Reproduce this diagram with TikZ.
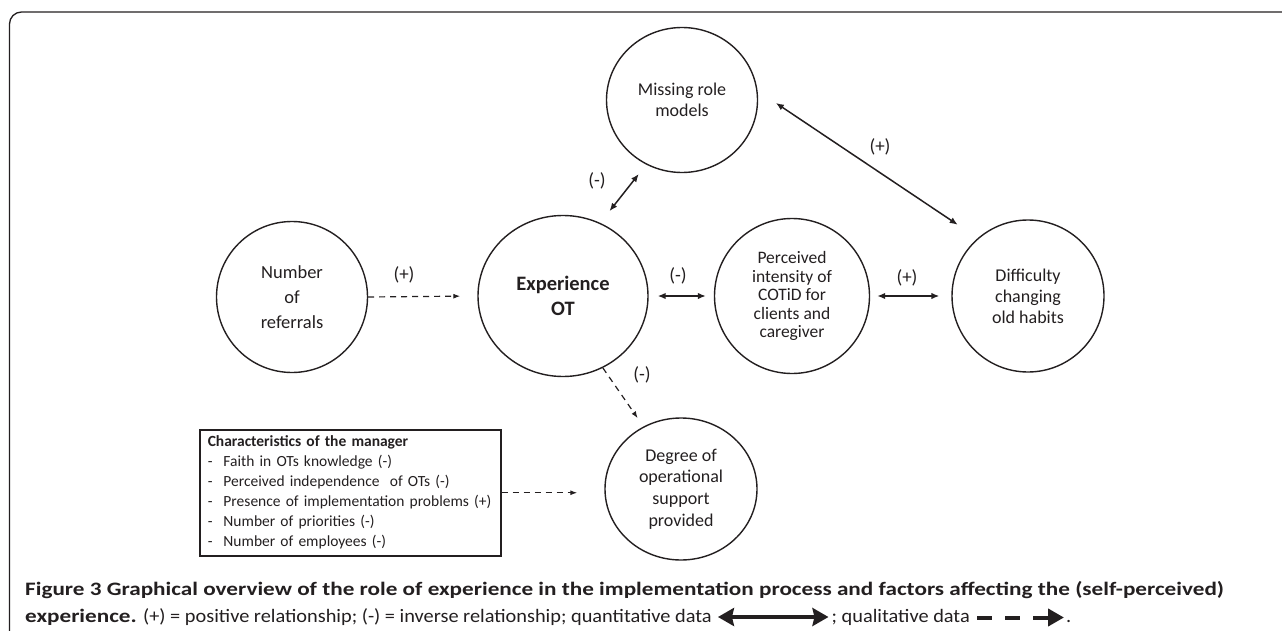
\documentclass[tikz,border=0pt]{standalone}
\usepackage{fontspec}
\setmainfont{Carlito}
\newfontfamily\capfont[FakeStretch=1.22]{Carlito}
\newfontfamily\capreg[FakeStretch=1.07]{Carlito}
\usetikzlibrary{arrows.meta,shapes.geometric,calc}
\definecolor{ink}{HTML}{231F20}
\begin{document}
\begin{tikzpicture}[x=1pt,y=-1pt,color=ink,
  bub/.style={ellipse,draw,line width=1.4pt,align=center,inner sep=0pt,font=\fontsize{18}{21}\selectfont},
  conn/.style={line width=1.5pt,{Latex[length=8pt,width=6.5pt]}-{Latex[length=8pt,width=6.5pt]}},
  qual/.style={line width=1.2pt,dash pattern=on 6pt off 5pt,-{Latex[length=7pt,width=5pt]}},
  lab/.style={font=\fontsize{19}{22}\selectfont,inner sep=0pt},
  capb/.style={font=\capfont\bfseries\fontsize{19}{22}\selectfont,inner sep=0pt},
  capr/.style={font=\capreg\fontsize{19}{22}\selectfont,inner sep=0pt},
  mgr/.style={draw,line width=1.5pt,align=left,inner xsep=8pt,inner ysep=4pt,text width=285pt,minimum height=126pt,font=\fontsize{15.5}{20}\selectfont},
]
\useasboundingbox (0,0) rectangle (1282,631);
\draw[line width=1.3pt,rounded corners=12pt] (9.5,631) -- (9.5,12) -- (1282,12);

% bubbles
\node[bub,minimum width=151,minimum height=145] (miss) at (682,100) {Missing role\\models};
\node[bub,minimum width=151,minimum height=151,font=\fontsize{18.5}{25}\selectfont] (refs) at (292,297) {Number\\of\\referrals};
\node[bub,minimum width=170,minimum height=161,font=\bfseries\fontsize{20.5}{25}\selectfont] (exp) at (563,296) {Experience\\OT};
\node[bub,minimum width=155,minimum height=155,font=\fontsize{17.5}{18.5}\selectfont] (perc) at (792,296) {Perceived\\intensity of\\COTiD for\\clients and\\caregiver};
\node[bub,minimum width=152,minimum height=152] (diff) at (1028,296) {Difficulty\\changing\\old habits};
\node[bub,minimum width=152,minimum height=142,font=\fontsize{18}{21.7}\selectfont] (deg) at (681,489) {Degree of\\operational\\support\\provided};

% manager box
\node[mgr,anchor=north west] (man) at (199,429) {\textbf{Characteristics of the manager}\\
-\hspace{11pt}Faith in OTs knowledge (-)\\
-\hspace{11pt}Perceived independence\ \ of OTs (-)\\
-\hspace{11pt}Presence of implementation problems (+)\\
-\hspace{11pt}Number of priorities (-)\\
-\hspace{11pt}Number of employees (-)};

% connectors
\draw[qual,shorten >=17pt] (refs.east) -- (exp.west);
\draw[conn,shorten <=9pt,shorten >=8pt] (exp.east) -- (perc.west);
\draw[conn,shorten <=7pt,shorten >=12pt] (perc.east) -- (diff.west);
\draw[conn,shorten <=22pt,shorten >=24pt] (miss.7) -- (diff.131);
\draw[conn,shorten <=15pt,shorten >=12pt] (exp.63) -- (miss.-119);
\draw[qual,shorten >=10pt] (exp.-61) -- (deg.121);
\draw[qual,shorten >=27pt] (man.east) -- (man.east -| deg.west);

% labels
\node[lab] (l1) at (404,275) {(+)};
\node[lab] (l2) at (678,276) {(-)};
\node[lab] (l3) at (907,278) {(+)};
\node[lab] (l4) at (880,147) {(+)};
\node[lab] (l5) at (597,181) {(-)};
\node[lab] (l6) at (642,375) {(-)};

% caption
\node[capb,anchor=base west] (c1) at (25,595) {Figure 3 Graphical overview of the role of experience in the implementation process and factors affecting the (self-perceived)};
\node[capb,anchor=base west] (c2a) at (25,622) {experience.};
\node[capr,anchor=base west] (c2b) at (143,622) {(+) = positive relationship; (-) = inverse relationship; quantitative data};
\node[capr,anchor=base east] (c2c) at (970,622) {; qualitative data};
\coordinate (qa1) at ($(c2b.base east)+(6,-5)$);
\coordinate (qa2) at ($(c2c.base west)+(-3,-5)$);
\draw[line width=4.5pt,{Stealth[length=16pt,width=18pt,inset=2pt]}-{Stealth[length=16pt,width=18pt,inset=2pt]}] (qa1) -- (qa2);
\coordinate (qd1) at ($(c2c.base east)+(7,-4.5)$);
\coordinate (qd2) at ($(qd1)+(87,0)$);
\draw[line width=4pt,dash pattern=on 15pt off 13pt,-{Triangle[length=16pt,width=17pt]}] (qd1) -- (qd2);
\node[capr,anchor=base west] (c2d) at ($(qd2|-c2c.base)+(2,0)$) {.};
\end{tikzpicture}
\end{document}
